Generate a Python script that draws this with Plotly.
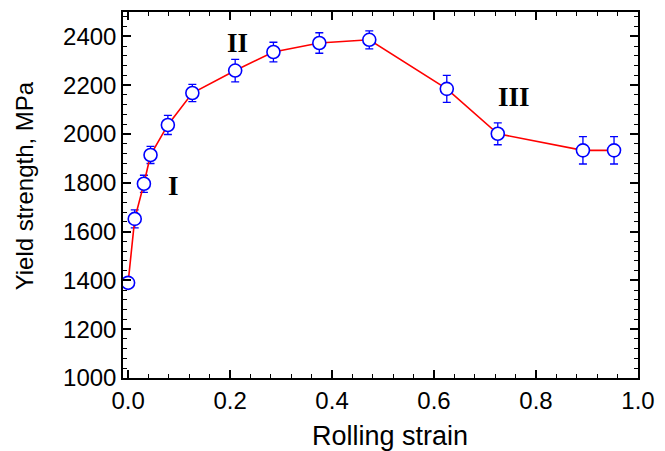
import plotly.graph_objects as go

strain = [0.0, 0.013, 0.031, 0.044, 0.078, 0.126, 0.21, 0.285, 0.375, 0.473, 0.625, 0.725, 0.892, 0.953]
yield_strength = [1390, 1652, 1796, 1914, 2037, 2168, 2260, 2336, 2373, 2386, 2185, 2001, 1933, 1933]
err = [20, 37, 35, 35, 39, 35, 46, 40, 42, 37, 55, 45, 56, 56]

stage_labels = ["I", "II", "III"]
stage_x = [0.09, 0.215, 0.756]
stage_y = [1785, 2375, 2150]

x_title = "Rolling strain"
y_title = "Yield strength, MPa"

fig = go.Figure()
fig.add_trace(go.Scatter(
    x=strain, y=yield_strength, mode="lines+markers",
    line=dict(color="#ff0000", width=1.6),
    marker=dict(symbol="circle", size=13, color="white", line=dict(color="#0000ff", width=1.6)),
    error_y=dict(type="data", array=err, visible=True, color="#0000ff", thickness=1.3, width=4),
    showlegend=False,
))
for t, x, y in zip(stage_labels, stage_x, stage_y):
    fig.add_annotation(x=x, y=y, text=f"<b>{t}</b>", showarrow=False,
                       font=dict(family="Liberation Serif", size=27, color="black"))

fig.add_annotation(xref="paper", yref="paper", x=0.518, y=-0.158, text=x_title, showarrow=False,
                   xanchor="center", yanchor="middle",
                   font=dict(family="Liberation Sans", size=27, color="black"))
fig.add_annotation(xref="paper", yref="paper", x=-0.192, y=0.524, text=y_title, showarrow=False,
                   xanchor="center", yanchor="middle", textangle=-90,
                   font=dict(family="Liberation Sans", size=24, color="black"))

axis_common = dict(
    showgrid=False, zeroline=False, showline=True, linecolor="black", linewidth=1.5,
    mirror="allticks", ticks="inside", ticklen=8, tickwidth=1.5, tickcolor="black",
    tickfont=dict(family="Liberation Sans", size=24, color="black"),
)
fig.update_xaxes(range=[-0.01, 1.0], dtick=0.2, tickformat=".1f",
                 minor=dict(dtick=0.04, ticks="inside", ticklen=4, tickwidth=1.2, tickcolor="black"),
                 **axis_common)
fig.update_yaxes(range=[1000, 2500], dtick=200,
                 minor=dict(dtick=40, ticks="inside", ticklen=4, tickwidth=1.2, tickcolor="black"),
                 **axis_common)
fig.update_layout(
    width=665, height=451, margin=dict(l=123, r=27, t=10, b=73),
    plot_bgcolor="white", paper_bgcolor="white",
)
fig.write_html("out.html")
